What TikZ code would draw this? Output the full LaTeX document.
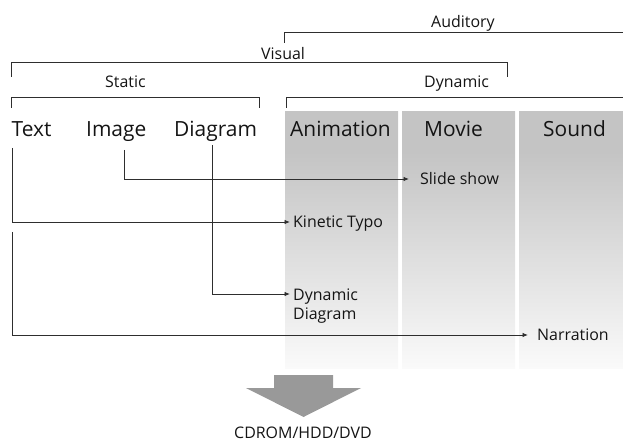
\documentclass[tikz,border=0pt]{standalone}
\usepackage{fontspec}
\setmainfont{Open Sans}
\usetikzlibrary{arrows.meta,calc}
% column fill: flat grey at the top, fading to near white at the bottom
% (a path is fitted to the 25bp--75bp band of the shading)
\pgfdeclareverticalshading{colfade}{100bp}{color(0bp)=(black!2); color(25bp)=(black!2); color(67bp)=(black!23); color(100bp)=(black!23)}
\begin{document}
\begin{tikzpicture}[x=1bp,y=-1bp,
  rule/.style={draw=black!82, line width=0.9bp},
  conn/.style={rule, -{Latex[length=5.5bp,width=4.5bp]}},
  medium/.style={inner sep=0, anchor=base west, font=\fontsize{21}{25}\selectfont, text=black!92},
  tag/.style={inner sep=0, anchor=base west, font=\fontsize{16}{19}\selectfont, text=black!92},
  outcome/.style={inner sep=0, anchor=west, text height=12bp, text depth=1bp,
    font=\fontsize{16}{19}\selectfont, text=black!92},
  outcomeml/.style={inner sep=0, anchor=north west, align=left,
    font=\fontsize{16}{19}\selectfont, text=black!92},
  column/.style={shading=colfade, draw=none},
]
\useasboundingbox (0,0) rectangle (623,444);

% shaded columns of the dynamic media
\shade[column] (285,112) rectangle (398,368);
\shade[column] (402,112) rectangle (515,368);
\shade[column] (519,112) rectangle (623,368);

% grouping brackets
\draw[rule] (284,43) -- (284,32.5) -- (623,32.5);
\draw[rule] (11,77) -- (11,62) -- (507,62) -- (507,77);
\draw[rule] (11,108) -- (11,97.5) -- (259,97.5) -- (259,108);
\draw[rule] (286,108) -- (286,97.5) -- (623,97.5);

% group labels
\node[tag] (auditory) at (431,28) {Auditory};
\node[tag] (visual) at (261,60) {Visual};
\node[tag] (static) at (105,88) {Static};
\node[tag] (dynamic) at (424,88) {Dynamic};

% media
\node[medium] (text) at (11.5,137) {Text};
\node[medium] (image) at (86,137) {Image};
\node[medium] (diagram) at (174,137) {Diagram};
\node[medium] (animation) at (290,137) {Animation};
\node[medium] (movie) at (424,137) {Movie};
\node[medium] (sound) at (543,137) {Sound};

% combined forms
\node[outcome] (slide) at (420,179) {Slide show};
\node[outcome] (kinetic) at (293,222) {Kinetic Typo};
\node[outcomeml] (dyndia) at (293,288.6) {Dynamic\\Diagram};
\node[outcome] (narration) at (537,335) {Narration};

% connector tails below the media
\coordinate (texttail) at (12,148);
\coordinate (imagetail) at (124,150);
\coordinate (diagramtail) at (212,145);
\coordinate (narrtail) at (12,232);

\draw[conn] (imagetail) |- ([xshift=-11bp]slide.west);
\draw[conn] (texttail) |- ([xshift=-3bp]kinetic.west);
\draw[conn] (diagramtail) |- ($(dyndia.north west)+(-3,5.4)$);
\draw[conn] (narrtail) |- ([xshift=-9bp]narration.west);

% output arrow and carrier
\fill[black!40] (274,375) -- (333,375) -- (333,388) -- (361,388) -- (303.5,417)
  -- (246,388) -- (274,388) -- cycle;
\node[tag, anchor=base] (media) at (303,438) {CDROM/HDD/DVD};
\end{tikzpicture}
\end{document}
